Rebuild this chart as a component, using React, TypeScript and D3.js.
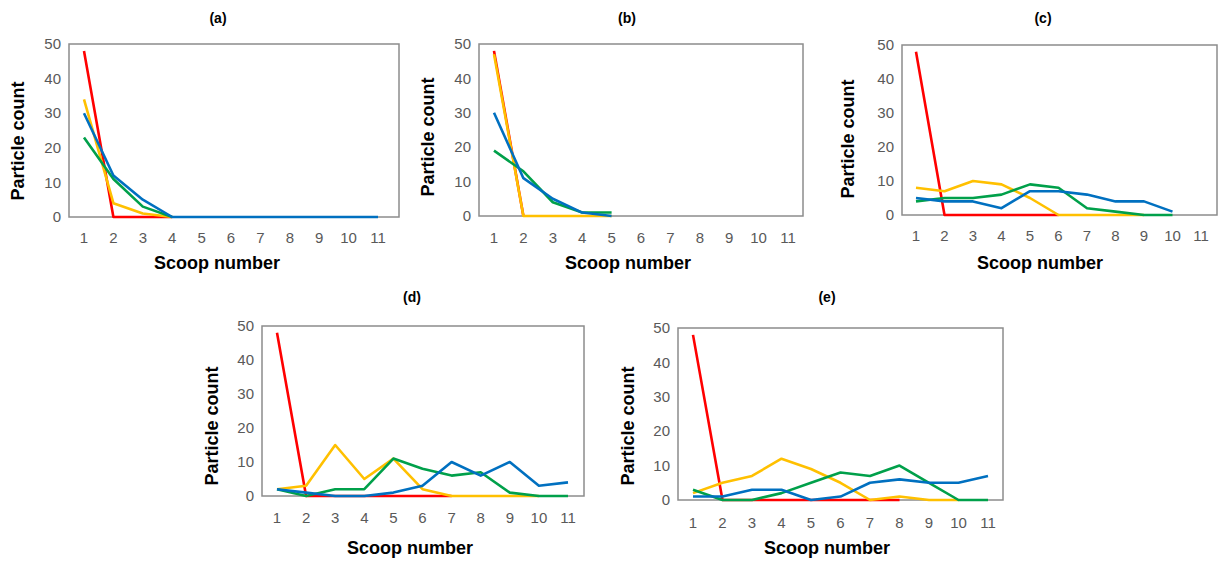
import React from 'react'
import * as d3 from 'd3'

// scoop numbers shared by every panel
const scoops = [1, 2, 3, 4, 5, 6, 7, 8, 9, 10, 11]
const yTicks = [0, 10, 20, 30, 40, 50]
const panelNames = ['(a)', '(b)', '(c)', '(d)', '(e)']
const colors = ['#ff0000', '#ffc000', '#00a04a', '#0070c0']

// (a)
const aRed = [48, 0, 0, 0]
const aYellow = [34, 4, 1, 0]
const aGreen = [23, 11, 3, 0]
const aBlue = [30, 12, 5, 0, 0, 0, 0, 0, 0, 0, 0]
// (b)
const bRed = [48, 0]
const bYellow = [47, 0, 0, 0, 0]
const bGreen = [19, 13, 4, 1, 1]
const bBlue = [30, 11, 5, 1, 0]
// (c)
const cRed = [48, 0, 0, 0, 0, 0]
const cYellow = [8, 7, 10, 9, 5, 0, 0, 0, 0]
const cGreen = [4, 5, 5, 6, 9, 8, 2, 1, 0, 0]
const cBlue = [5, 4, 4, 2, 7, 7, 6, 4, 4, 1]
// (d)
const dRed = [48, 0, 0, 0, 0, 0, 0]
const dYellow = [2, 3, 15, 5, 11, 2, 0, 0, 0, 0]
const dGreen = [2, 0, 2, 2, 11, 8, 6, 7, 1, 0, 0]
const dBlue = [2, 1, 0, 0, 1, 3, 10, 6, 10, 3, 4]
// (e)
const eRed = [48, 0, 0, 0, 0, 0, 0, 0]
const eYellow = [2, 5, 7, 12, 9, 5, 0, 1, 0, 0]
const eGreen = [3, 0, 0, 2, 5, 8, 7, 10, 5, 0, 0]
const eBlue = [1, 1, 3, 3, 0, 1, 5, 6, 5, 5, 7]

const panelSeries = [
  [aRed, aYellow, aGreen, aBlue],
  [bRed, bYellow, bGreen, bBlue],
  [cRed, cYellow, cGreen, cBlue],
  [dRed, dYellow, dGreen, dBlue],
  [eRed, eYellow, eGreen, eBlue]
]

// layout of each panel (frame, first/last tick, label positions)
const layouts = [
  { left: 69, right: 399, top: 44, bottom: 217, x1: 84, x11: 378, titleX: 218, titleY: 18, yLabX: 18, yLabY: 141, tickY: 238, xLabX: 217, xLabY: 263 },
  { left: 479, right: 803, top: 44, bottom: 216, x1: 494, x11: 788, titleX: 627, titleY: 18, yLabX: 428, yLabY: 137, tickY: 238, xLabX: 628, xLabY: 263 },
  { left: 902, right: 1217, top: 45, bottom: 215, x1: 916, x11: 1201, titleX: 1043, titleY: 18, yLabX: 848, yLabY: 139, tickY: 236, xLabX: 1040, xLabY: 263 },
  { left: 262, right: 584, top: 326, bottom: 496, x1: 277, x11: 568, titleX: 412, titleY: 297, yLabX: 212, yLabY: 426, tickY: 518, xLabX: 410, xLabY: 548 },
  { left: 678, right: 1003, top: 328, bottom: 500, x1: 693, x11: 988, titleX: 827, titleY: 297, yLabX: 628, yLabY: 426, tickY: 523, xLabX: 827, xLabY: 548 }
]

const tickFont = '"Liberation Sans", Arial, sans-serif'

function Panel({ idx }: { idx: number }) {
  const L = layouts[idx]
  const xScale = d3.scaleLinear().domain([1, 11]).range([L.x1, L.x11])
  const yScale = d3.scaleLinear().domain([0, 50]).range([L.bottom, L.top])
  const line = d3
    .line<number>()
    .x((d, i) => xScale(scoops[i]))
    .y((d) => yScale(d))

  return (
    <g>
      <rect
        x={L.left}
        y={L.top}
        width={L.right - L.left}
        height={L.bottom - L.top}
        fill="#fff"
        stroke="#8c8c8c"
        strokeWidth={1.5}
      />
      {yTicks.map((t) => (
        <text
          key={'y' + t}
          x={L.left - 8}
          y={yScale(t)}
          dy="0.35em"
          textAnchor="end"
          fontSize={15}
          fill="#595959"
          fontFamily={tickFont}
        >
          {t}
        </text>
      ))}
      {scoops.map((s) => (
        <text
          key={'x' + s}
          x={xScale(s)}
          y={L.tickY}
          dy="0.35em"
          textAnchor="middle"
          fontSize={15}
          fill="#595959"
          fontFamily={tickFont}
        >
          {s}
        </text>
      ))}
      {panelSeries[idx].map((vals, k) => (
        <path
          key={'s' + k}
          d={line(vals) || ''}
          fill="none"
          stroke={colors[k]}
          strokeWidth={2.6}
          strokeLinejoin="round"
        />
      ))}
      <text
        x={L.titleX}
        y={L.titleY}
        dy="0.35em"
        textAnchor="middle"
        fontSize={14}
        fontWeight="bold"
        fontFamily={tickFont}
      >
        {panelNames[idx]}
      </text>
      <text
        transform={`translate(${L.yLabX},${L.yLabY}) rotate(-90)`}
        dy="0.35em"
        textAnchor="middle"
        fontSize={18}
        fontWeight="bold"
        fontFamily={tickFont}
      >
        Particle count
      </text>
      <text
        x={L.xLabX}
        y={L.xLabY}
        dy="0.35em"
        textAnchor="middle"
        fontSize={18}
        fontWeight="bold"
        fontFamily={tickFont}
      >
        Scoop number
      </text>
    </g>
  )
}

const App = () => {
  return (
    <svg
      width={1218}
      height={564}
      style={{ position: 'absolute', left: 0, top: 0, background: '#fff' }}
    >
      {panelNames.map((n, i) => (
        <Panel key={n} idx={i} />
      ))}
    </svg>
  )
}

export default App
